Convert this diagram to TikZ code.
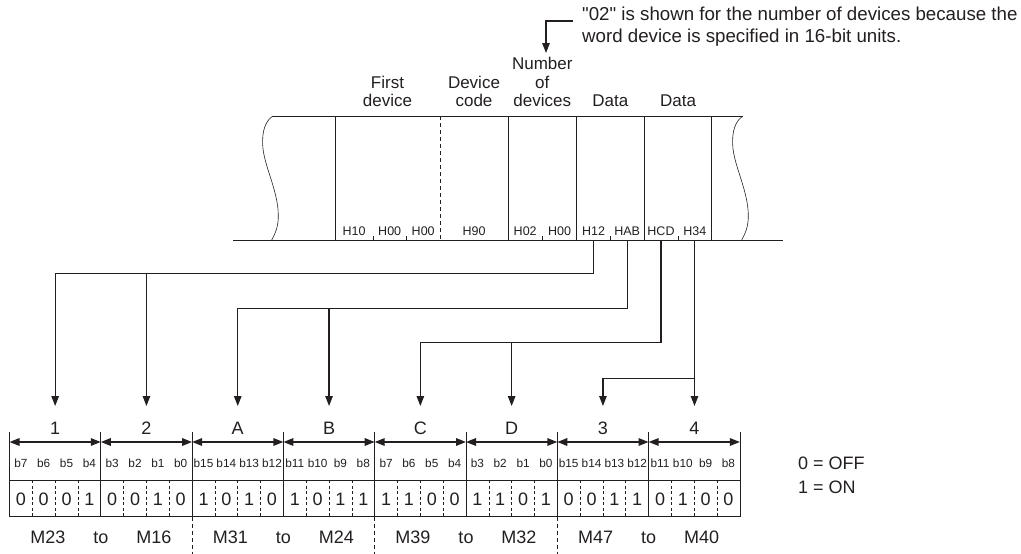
\documentclass[tikz,border=0pt]{standalone}
\usepackage{fontspec}
\setmainfont{Liberation Sans}
\usetikzlibrary{arrows.meta}
\definecolor{lc}{HTML}{231F20}
\begin{document}
\begin{tikzpicture}[x=1pt,y=-1pt,
  frame/.style={draw=lc, line width=0.8pt},
  thin/.style={draw=lc, line width=0.6pt},
  conn/.style={draw=lc, line width=1.2pt, -{Triangle[width=7.5pt,length=10pt]}},
  dbl/.style={draw=lc, line width=1.6pt, {Triangle[width=7.5pt,length=10pt]}-{Triangle[width=7.5pt,length=10pt]}},
  hdr/.style={font=\fontsize{17}{18.5}\selectfont, align=center, text=lc, inner sep=0pt, anchor=south},
  note/.style={font=\fontsize{18.7}{21.5}\selectfont, align=left, text=lc, inner sep=0pt, anchor=north west},
  hex/.style={font=\fontsize{12.5}{14}\selectfont, text=lc, inner sep=0pt, anchor=base},
  bitlab/.style={font=\fontsize{11.8}{13}\selectfont, text=lc, inner sep=0pt, anchor=base},
  big/.style={font=\fontsize{18}{20}\selectfont, text=lc, inner sep=0pt, anchor=base},
  dsep/.style={draw=lc, line width=0.6pt, dash pattern=on 3pt off 2.5pt},
  dlow/.style={draw=lc, line width=0.7pt, dash pattern=on 4pt off 3pt}
]
\useasboundingbox (0,0) rectangle (1021,554);

% ---------- header texts ----------
\node[hdr] (h1) at (387.5,107) {First\\device};
\node[hdr] (h2) at (474,107) {Device\\code};
\node[hdr] (h3) at (542.3,107) {Number\\of\\devices};
\node[hdr] (h4) at (610.3,107) {Data};
\node[hdr] (h5) at (678,107) {Data};
\node[note] (nt0) at (582,7) {\textquotedbl 02\textquotedbl{} is shown for the number of devices because the\\word device is specified in 16-bit units.};
\coordinate (na) at (573,21);
\coordinate (nb) at (546,53);
\draw[conn] (na) -| (nb);

% ---------- frame ----------
\draw[frame] (273,116) -- (743,116);
\draw[frame] (233,240) -- (783,240);
\draw[thin] (273,116) .. controls (265,121) and (262,132) .. (262.7,145)
  .. controls (263.5,165) and (278,190) .. (278.3,215)
  .. controls (278.5,227) and (275,234) .. (271.7,240);
\draw[thin] (743,116) .. controls (735,121) and (732,132) .. (732.7,145)
  .. controls (733.5,165) and (748,190) .. (748.3,215)
  .. controls (748.5,227) and (745,234) .. (741.7,240);
\foreach \x in {335,508,576.7,644,711.7} \draw[frame] (\x,116) -- (\x,240);
\draw[frame, dash pattern=on 4pt off 3pt] (440,116) -- (440,240);
\foreach \x in {373,406.5,542.3,610.3,678} \draw[thin] (\x,240) -- (\x,235.5);
\foreach \t/\x [count=\n] in {H10/354,H00/389.7,H00/423.2,H90/474,H02/525.2,H00/559.5,H12/593.5,HAB/627.2,HCD/661,H34/694.8}
  \node[hex] (x\n) at (\x,235.5) {\t};

% ---------- connectors ----------
\coordinate (s1) at (593.5,240);
\coordinate (s2) at (627.2,240);
\coordinate (s3) at (661,240);
\coordinate (s4) at (694.5,240);
\coordinate (j1) at (593.5,273.5);
\coordinate (j2) at (627.2,308.5);
\coordinate (j3) at (661,342.5);
\coordinate (j4) at (694.5,378.5);
\foreach \i in {0,...,7} \coordinate (t\i) at (9.5+91.3*\i+45.65,406);
\draw[conn] (s1) -- (j1) -| (t0);
\draw[conn] (t1 |- j1) -- (t1);
\draw[conn] (s2) -- (j2) -| (t2);
\draw[conn] (t3 |- j2) -- (t3);
\draw[conn] (s3) -- (j3) -| (t4);
\draw[conn] (t5 |- j3) -- (t5);
\draw[conn] (s4) -- (s4 |- t7);
\draw[conn] (j4) -| (t6);

% ---------- table ----------
\draw[frame] (9.5,480) -- (739.9,480);
\draw[frame] (9.5,516.7) -- (739.9,516.7);
\foreach \j in {0,...,8} \draw[frame] (9.5+91.3*\j,432) -- (9.5+91.3*\j,516.7);
\foreach \j in {2,4,6} \draw[dlow] (9.5+91.3*\j,516.7) -- (9.5+91.3*\j,554);
\foreach \lab/\va/\vb/\vc/\vd [count=\i from 0] in {1/0/0/0/1, 2/0/0/1/0, A/1/0/1/0, B/1/0/1/1, C/1/1/0/0, D/1/1/0/1, 3/0/0/1/1, 4/0/1/0/0}
{
  \pgfmathsetmacro\xa{9.5+91.3*\i}
  \node[big] (g\i) at (\xa+45.65,434) {\lab};
  \draw[dbl] (\xa,442) -- (\xa+91.3,442);
  \foreach \k in {0,...,3} {
    \pgfmathtruncatemacro\bn{{7,3,15,11}[mod(\i,4)]-\k}
    \node[bitlab] (b\i-\k) at (\xa+11.41+22.825*\k,467) {b\bn};
  }
  \foreach \k in {1,2,3} \draw[dsep] (\xa+22.825*\k,480) -- (\xa+22.825*\k,516.7);
  \node[big] (v\i-0) at (\xa+11.41,505) {\va};
  \node[big] (v\i-1) at (\xa+34.24,505) {\vb};
  \node[big] (v\i-2) at (\xa+57.06,505) {\vc};
  \node[big] (v\i-3) at (\xa+79.89,505) {\vd};
}
\foreach \ma/\mb [count=\p from 0] in {M23/M16, M31/M24, M39/M32, M47/M40}
{
  \pgfmathsetmacro\xc{9.5+182.6*\p+91.3}
  \node[big] (ma\p) at (\xc-53,543) {\ma};
  \node[big] (to\p) at (\xc,543) {to};
  \node[big] (mb\p) at (\xc+53,543) {\mb};
}
\node[big, anchor=base west] (l0) at (798,469) {0 = OFF};
\node[big, anchor=base west] (l1) at (798,493) {1 = ON};
\end{tikzpicture}
\end{document}
